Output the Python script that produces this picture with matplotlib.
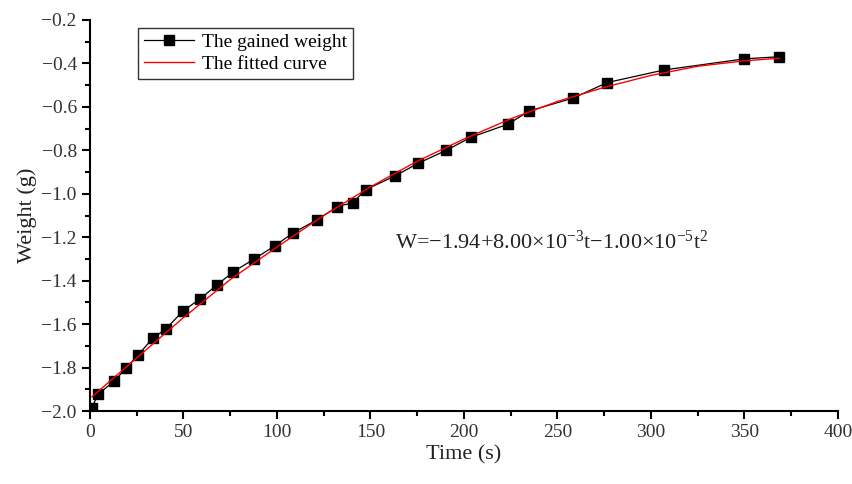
import matplotlib
matplotlib.use("Agg")
import matplotlib.pyplot as plt
from matplotlib.ticker import MultipleLocator

# measured weight (gained weight) vs time
time_s = [1, 4.3, 13.1, 19.3, 25.7, 33.7, 40.6, 49.7, 58.8, 67.9, 76.5, 87.8,
          98.8, 108.6, 121.2, 132.3, 140.6, 147.4, 163.1, 175.4, 190.5, 203.7,
          223.7, 234.8, 258.5, 276.6, 307.0, 349.9, 368.6]
weight_g = [-1.986, -1.922, -1.862, -1.802, -1.742, -1.664, -1.622, -1.540,
            -1.484, -1.420, -1.360, -1.300, -1.240, -1.180, -1.121, -1.059,
            -1.041, -0.981, -0.918, -0.860, -0.800, -0.740, -0.679, -0.619,
            -0.559, -0.488, -0.430, -0.379, -0.369]

# fitted curve
fit_t = [1, 25, 50, 75, 100, 125, 150, 175, 200, 225, 250, 275, 300, 325,
         350, 368.6]
fit_w = [-1.935, -1.755, -1.570, -1.395, -1.245, -1.100, -0.968, -0.850,
         -0.748, -0.655, -0.575, -0.510, -0.455, -0.413, -0.388, -0.376]

plt.rcParams['font.family'] = ['Liberation Serif', 'DejaVu Serif']
plt.rcParams['mathtext.fontset'] = 'custom'
plt.rcParams['mathtext.rm'] = 'Liberation Serif'
plt.rcParams['mathtext.it'] = 'Liberation Serif'

fig = plt.figure(figsize=(8.53, 4.84), dpi=100)
ax = fig.add_axes([0.1055, 0.1508, 0.8769, 0.8079])

ax.plot(time_s, weight_g, color="black", lw=0.9, marker="s", markersize=7.5,
        label="The gained weight")
ax.plot(fit_t, fit_w, color="red", lw=1.0, label="The fitted curve")

ax.set_xlim(0, 400)
ax.set_ylim(-2.0, -0.2)
ax.xaxis.set_major_locator(MultipleLocator(50))
ax.xaxis.set_minor_locator(MultipleLocator(25))
ax.yaxis.set_major_locator(MultipleLocator(0.2))
ax.yaxis.set_minor_locator(MultipleLocator(0.1))
ax.yaxis.set_major_formatter(
    plt.FuncFormatter(lambda v, p: ("%.1f" % v).replace("-", "\u2212")))

for s in ["top", "right"]:
    ax.spines[s].set_visible(False)
for s in ["left", "bottom"]:
    ax.spines[s].set_linewidth(1.5)

ax.tick_params(which="major", direction="out", length=6, width=1.5,
               labelsize=14, colors="black", labelcolor="#333333")
ax.tick_params(which="minor", direction="out", length=3.5, width=1.5)

ax.set_xlabel("Time (s)", fontsize=16, color="#222222", labelpad=3)
ax.set_ylabel("Weight (g)", fontsize=16, color="#222222", labelpad=3)

ax.text(0.408, 0.432,
        "W=\u22121.94+8.00$\\times$10$^{-3}$t\u22121.00$\\times$10$^{-5}$t$^{2}$",
        transform=ax.transAxes, fontsize=16, ha="left", va="center",
        color="#222222")

leg = ax.legend(loc="upper left", bbox_to_anchor=(0.064, 0.98), fontsize=14,
                frameon=True, fancybox=False, edgecolor="black",
                handlelength=2.6, borderpad=0.3, labelspacing=0.2,
                handletextpad=0.4, borderaxespad=0)
leg.get_frame().set_linewidth(1.0)

fig.savefig("out.png", dpi=100)
